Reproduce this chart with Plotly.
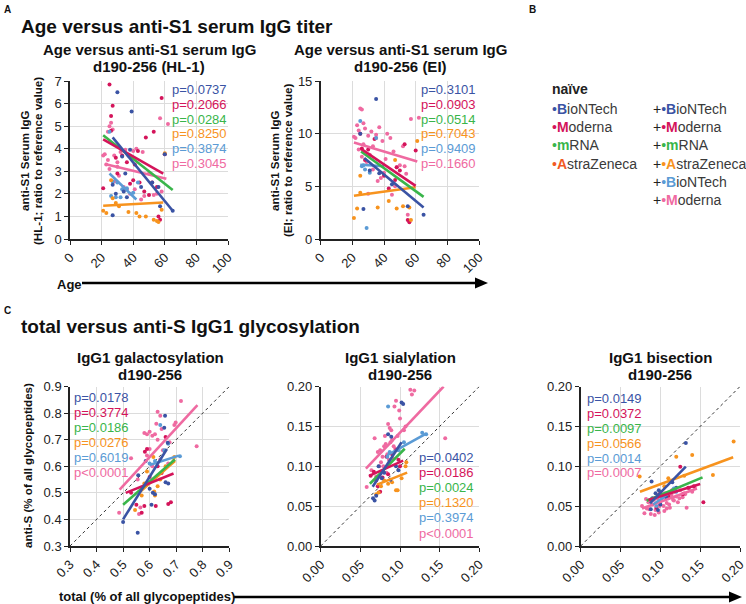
import plotly.graph_objects as go

W, H = 746, 604
FONT = "Liberation Sans, Arial, sans-serif"

# colours
C_BNT = "#3A53A4"
C_MOD = "#D4145A"
C_MRNA = "#39B54A"
C_AZ = "#F7931E"
C_AZN = "#F15A24"
C_BNT2 = "#5B9BD5"
C_MOD2 = "#EF6AA1"

# ---------------- Panel A1 : HL-1 (age, ratio) ----------------
a1_bnt_x = [27, 30, 34, 35, 39, 38, 36, 29, 45, 52, 56, 57, 60, 65, 27, 33]
a1_bnt_y = [1.05, 6.5, 2.1, 2.9, 5.65, 3.95, 1.85, 2.0, 2.3, 2.5, 2.3, 1.45, 3.75, 1.25, 2.4, 3.65]
a1_mod_x = [25, 27, 26, 58, 48, 53, 21, 30, 33, 36, 38, 40, 43, 44, 47, 52, 55, 56, 57, 60, 29, 35, 50, 26, 41]
a1_mod_y = [6.85, 5.9, 5.45, 6.25, 4.5, 4.75, 2.25, 2.9, 3.7, 3.4, 2.45, 2.6, 3.9, 2.5, 2.1, 2.5, 2.3, 1.0, 0.85, 3.75, 3.6, 2.2, 1.95, 4.8, 3.3]
a1_mod2_x = [22, 23, 24, 25, 26, 27, 21, 28, 30, 32, 35, 37, 40, 42, 46, 25, 30, 34, 38, 41, 45, 50, 55, 57, 62, 28, 36, 47, 58, 53, 24, 31]
a1_mod2_y = [3.75, 3.3, 4.75, 5.0, 5.15, 4.85, 3.7, 3.7, 3.4, 3.85, 3.95, 3.7, 3.9, 4.0, 3.85, 3.1, 3.2, 2.3, 2.0, 2.2, 1.75, 2.9, 2.0, 5.35, 5.1, 2.55, 2.2, 1.9, 2.1, 1.95, 3.5, 2.8]
a1_bnt2_x = [25, 27, 30, 29, 32, 36, 40, 43, 33, 26]
a1_bnt2_y = [4.75, 2.55, 2.5, 1.85, 1.85, 2.25, 2.05, 2.5, 2.2, 1.9]
a1_az_x = [21, 23, 27, 29, 26, 37, 44, 48, 53, 55, 56, 58, 60, 31, 42]
a1_az_y = [1.25, 1.15, 1.8, 1.6, 2.6, 1.2, 1.0, 1.0, 0.85, 0.8, 0.75, 1.3, 3.8, 1.45, 1.15]
# regression lines (x0, x1, y0, y1)
a1_fit = {
    "bnt": (27, 65, 4.5, 1.25), "mod": (21, 59, 4.41, 2.9), "mrna": (21, 65, 4.6, 2.17),
    "az": (21, 59, 1.47, 1.62), "bnt2": (25, 42, 2.9, 1.75), "mod2": (22, 61, 3.32, 2.67)}
a1_p = ["p=0.0737", "p=0.2066", "p=0.0284", "p=0.8250", "p=0.3874", "p=0.3045"]

# ---------------- Panel A2 : EI ----------------
a2_bnt_x = [35, 27, 55, 65, 37, 25, 31, 45]
a2_bnt_y = [13.3, 2.85, 3.1, 2.3, 6.25, 10.0, 6.5, 5.2]
a2_mod_x = [25, 26, 53, 60, 48, 50, 40, 47, 56, 55, 43, 34, 28, 30]
a2_mod_y = [10.0, 8.6, 9.0, 8.4, 6.8, 6.5, 6.0, 5.6, 1.6, 1.8, 4.8, 9.5, 7.5, 8.5]
a2_mod2_x = [22, 24, 25, 26, 27, 23, 21, 28, 30, 32, 33, 35, 37, 39, 42, 44, 46, 48, 50, 52, 54, 57, 62, 27, 29, 31, 36, 38, 41, 45, 24, 26, 33, 40, 53, 47, 30, 35, 55]
a2_mod2_y = [9.6, 10.3, 12.4, 12.3, 11.0, 10.8, 9.7, 10.5, 9.8, 10.2, 8.8, 9.9, 10.6, 9.3, 10.0, 9.6, 8.3, 6.8, 7.0, 8.8, 6.2, 11.4, 11.5, 9.0, 7.3, 8.0, 5.5, 5.8, 7.6, 4.2, 8.5, 7.8, 6.6, 6.3, 6.9, 5.0, 4.3, 9.6, 2.3]
a2_bnt2_x = [25, 27, 28, 29, 31, 35, 26]
a2_bnt2_y = [11.2, 7.0, 6.6, 1.05, 6.3, 9.6, 6.9]
a2_az_x = [21, 23, 25, 25, 36, 43, 48, 52, 57, 61, 47, 56]
a2_az_y = [2.0, 2.9, 6.0, 4.4, 3.0, 3.6, 2.9, 3.1, 1.8, 9.3, 7.5, 3.0]
a2_fit = {
    "bnt": (27.5, 65, 7.7, 3.0), "mod": (25.5, 60, 8.55, 5.05), "mrna": (25.5, 65, 8.3, 4.0),
    "az": (21, 60, 4.1, 4.92), "bnt2": (25, 40, 7.05, 6.9), "mod2": (21, 61, 9.16, 7.36)}
a2_p = ["p=0.3101", "p=0.0903", "p=0.0514", "p=0.7043", "p=0.9409", "p=0.1660"]

# ---------------- Panel C1 : galactosylation ----------------
c1_bnt_x = [0.50, 0.555, 0.658, 0.655, 0.668, 0.557, 0.66, 0.607, 0.612, 0.60, 0.62, 0.67, 0.585]
c1_bnt_y = [0.39, 0.35, 0.79, 0.745, 0.688, 0.566, 0.54, 0.455, 0.50, 0.515, 0.495, 0.535, 0.62]
c1_mod_x = [0.582, 0.59, 0.623, 0.67, 0.68, 0.57, 0.53, 0.645, 0.58, 0.63, 0.55, 0.66, 0.60]
c1_mod_y = [0.655, 0.665, 0.45, 0.458, 0.465, 0.425, 0.50, 0.575, 0.45, 0.60, 0.455, 0.71, 0.56]
c1_mod2_x = [0.718, 0.64, 0.63, 0.625, 0.645, 0.58, 0.59, 0.60, 0.61, 0.62, 0.693, 0.698, 0.777, 0.53, 0.485, 0.565, 0.56, 0.60, 0.65, 0.675, 0.64, 0.59, 0.67, 0.63, 0.61, 0.555]
c1_mod2_y = [0.845, 0.79, 0.805, 0.76, 0.74, 0.725, 0.72, 0.73, 0.715, 0.72, 0.755, 0.765, 0.675, 0.63, 0.425, 0.445, 0.42, 0.665, 0.66, 0.69, 0.625, 0.64, 0.61, 0.70, 0.60, 0.55]
c1_bnt2_x = [0.64, 0.714, 0.67, 0.62, 0.60, 0.655]
c1_bnt2_y = [0.755, 0.638, 0.685, 0.62, 0.61, 0.66]
c1_az_x = [0.614, 0.693, 0.617, 0.62, 0.545, 0.57, 0.59, 0.64, 0.66, 0.58, 0.63, 0.69]
c1_az_y = [0.635, 0.635, 0.505, 0.49, 0.435, 0.49, 0.58, 0.55, 0.60, 0.535, 0.525, 0.62]
c1_fit = {
    "bnt": (0.50, 0.665, 0.40, 0.665), "mod": (0.51, 0.69, 0.50, 0.573), "mrna": (0.50, 0.695, 0.455, 0.625),
    "az": (0.56, 0.695, 0.50, 0.62), "bnt2": (0.60, 0.71, 0.605, 0.64), "mod2": (0.487, 0.78, 0.512, 0.83)}
c1_p = ["p=0.0178", "p=0.3774", "p=0.0186", "p=0.0276", "p=0.6019", "p<0.0001"]

# ---------------- Panel C2 : sialylation ----------------
c2_bnt_x = [0.102, 0.104, 0.089, 0.085, 0.066, 0.068, 0.070, 0.073, 0.080, 0.077, 0.095, 0.098, 0.088]
c2_bnt_y = [0.18, 0.178, 0.137, 0.14, 0.06, 0.057, 0.063, 0.10, 0.092, 0.085, 0.10, 0.095, 0.083]
c2_mod_x = [0.063, 0.067, 0.078, 0.100, 0.072, 0.083, 0.090, 0.095, 0.075, 0.085, 0.070, 0.098]
c2_mod_y = [0.088, 0.093, 0.086, 0.100, 0.075, 0.112, 0.115, 0.12, 0.068, 0.09, 0.082, 0.108]
c2_mod2_x = [0.113, 0.118, 0.115, 0.095, 0.099, 0.093, 0.085, 0.087, 0.089, 0.088, 0.068, 0.072, 0.075, 0.080, 0.082, 0.090, 0.092, 0.094, 0.078, 0.076, 0.084, 0.097, 0.105, 0.107, 0.058, 0.064, 0.157, 0.086, 0.079, 0.091, 0.083, 0.074, 0.081, 0.100, 0.070]
c2_mod2_y = [0.196, 0.195, 0.19, 0.182, 0.17, 0.175, 0.153, 0.148, 0.145, 0.13, 0.135, 0.118, 0.12, 0.125, 0.128, 0.133, 0.125, 0.122, 0.112, 0.105, 0.115, 0.138, 0.145, 0.15, 0.074, 0.095, 0.135, 0.108, 0.10, 0.11, 0.092, 0.10, 0.138, 0.16, 0.087]
c2_bnt2_x = [0.085, 0.087, 0.128, 0.133, 0.105, 0.098, 0.084]
c2_bnt2_y = [0.175, 0.118, 0.142, 0.14, 0.13, 0.12, 0.112]
c2_az_x = [0.073, 0.070, 0.095, 0.097, 0.090, 0.102, 0.107, 0.108, 0.080, 0.085, 0.076]
c2_az_y = [0.067, 0.065, 0.07, 0.07, 0.08, 0.085, 0.10, 0.105, 0.082, 0.078, 0.075]
c2_fit = {
    "bnt": (0.0655, 0.102, 0.0743, 0.130), "mod": (0.061, 0.104, 0.088, 0.107), "mrna": (0.062, 0.106, 0.078, 0.122),
    "az": (0.071, 0.109, 0.077, 0.092), "bnt2": (0.084, 0.133, 0.114, 0.141), "mod2": (0.057, 0.155, 0.097, 0.20)}
c2_p = ["p=0.0402", "p=0.0186", "p=0.0024", "p=0.1320", "p=0.3974", "p<0.0001"]

# ---------------- Panel C3 : bisection ----------------
c3_bnt_x = [0.132, 0.089, 0.094, 0.097, 0.115, 0.12, 0.088, 0.100, 0.107, 0.09, 0.098]
c3_bnt_y = [0.129, 0.081, 0.066, 0.045, 0.08, 0.073, 0.046, 0.052, 0.061, 0.06, 0.07]
c3_mod_x = [0.125, 0.154, 0.100, 0.135, 0.128, 0.110, 0.115, 0.088, 0.095, 0.142]
c3_mod_y = [0.0995, 0.055, 0.067, 0.073, 0.065, 0.062, 0.07, 0.058, 0.048, 0.075]
c3_mod2_x = [0.077, 0.08, 0.083, 0.085, 0.088, 0.09, 0.092, 0.094, 0.096, 0.098, 0.1, 0.102, 0.104, 0.106, 0.108, 0.11, 0.112, 0.114, 0.116, 0.118, 0.12, 0.122, 0.125, 0.128, 0.13, 0.133, 0.136, 0.14, 0.143, 0.086, 0.093, 0.099, 0.105, 0.111, 0.117, 0.124, 0.131, 0.082, 0.097, 0.108]
c3_mod2_y = [0.05, 0.041, 0.047, 0.055, 0.04, 0.052, 0.058, 0.045, 0.06, 0.042, 0.056, 0.063, 0.05, 0.066, 0.054, 0.06, 0.048, 0.064, 0.058, 0.068, 0.062, 0.055, 0.07, 0.061, 0.066, 0.048, 0.072, 0.068, 0.074, 0.046, 0.039, 0.05, 0.044, 0.052, 0.057, 0.06, 0.065, 0.059, 0.064, 0.047]
c3_bnt2_x = [0.102, 0.108, 0.117, 0.095, 0.12]
c3_bnt2_y = [0.06, 0.065, 0.072, 0.05, 0.068]
c3_az_x = [0.192, 0.140, 0.120, 0.074, 0.166, 0.105, 0.11, 0.13]
c3_az_y = [0.131, 0.114, 0.112, 0.087, 0.089, 0.075, 0.085, 0.088]
c3_fit = {
    "bnt": (0.087, 0.132, 0.0534, 0.0995), "mod": (0.085, 0.15, 0.0576, 0.0777), "mrna": (0.0827, 0.153, 0.0568, 0.086),
    "az": (0.0744, 0.1914, 0.068, 0.1112), "bnt2": (0.091, 0.12, 0.052, 0.073), "mod2": (0.077, 0.146, 0.047, 0.072)}
c3_p = ["p=0.0149", "p=0.0372", "p=0.0097", "p=0.0566", "p=0.0014", "p=0.0007"]

diag_c1 = [0.3, 0.9]
diag_c23 = [0.0, 0.2]

FIT_COL = {"bnt": C_BNT, "mod": C_MOD, "mrna": C_MRNA, "az": C_AZ, "bnt2": C_BNT2, "mod2": C_MOD2}
P_COLS = [C_BNT, C_MOD, C_MRNA, C_AZ, C_BNT2, C_MOD2]

def px(x):
    return x / W

def py(y):
    return 1 - y / H

fig = go.Figure()

panels = [
    ("x", "y", [(a1_mod2_x, a1_mod2_y, C_MOD2), (a1_mod_x, a1_mod_y, C_MOD), (a1_bnt2_x, a1_bnt2_y, C_BNT2),
                (a1_az_x, a1_az_y, C_AZ), (a1_bnt_x, a1_bnt_y, C_BNT)], a1_fit, None),
    ("x2", "y2", [(a2_mod2_x, a2_mod2_y, C_MOD2), (a2_mod_x, a2_mod_y, C_MOD), (a2_bnt2_x, a2_bnt2_y, C_BNT2),
                  (a2_az_x, a2_az_y, C_AZ), (a2_bnt_x, a2_bnt_y, C_BNT)], a2_fit, None),
    ("x3", "y3", [(c1_mod2_x, c1_mod2_y, C_MOD2), (c1_mod_x, c1_mod_y, C_MOD), (c1_bnt2_x, c1_bnt2_y, C_BNT2),
                  (c1_az_x, c1_az_y, C_AZ), (c1_bnt_x, c1_bnt_y, C_BNT)], c1_fit, diag_c1),
    ("x4", "y4", [(c2_mod2_x, c2_mod2_y, C_MOD2), (c2_mod_x, c2_mod_y, C_MOD), (c2_bnt2_x, c2_bnt2_y, C_BNT2),
                  (c2_az_x, c2_az_y, C_AZ), (c2_bnt_x, c2_bnt_y, C_BNT)], c2_fit, diag_c23),
    ("x5", "y5", [(c3_mod2_x, c3_mod2_y, C_MOD2), (c3_mod_x, c3_mod_y, C_MOD), (c3_bnt2_x, c3_bnt2_y, C_BNT2),
                  (c3_az_x, c3_az_y, C_AZ), (c3_bnt_x, c3_bnt_y, C_BNT)], c3_fit, diag_c23),
]

for xa, ya, pts, fit, diag in panels:
    if diag is not None:
        fig.add_trace(go.Scatter(x=diag, y=diag, xaxis=xa, yaxis=ya, mode="lines",
                                 line=dict(color="#333333", width=1, dash="dot"), hoverinfo="skip"))
    for xs, ys, col in pts:
        fig.add_trace(go.Scatter(x=xs, y=ys, xaxis=xa, yaxis=ya, mode="markers",
                                 marker=dict(color=col, size=4, line=dict(width=0))))
    for key in ["mod2", "az", "bnt2", "mrna", "mod", "bnt"]:
        x0, x1, y0, y1 = fit[key]
        fig.add_trace(go.Scatter(x=[x0, x1], y=[y0, y1], xaxis=xa, yaxis=ya, mode="lines",
                                 line=dict(color=FIT_COL[key], width=2.6)))

def axis(domain, rng, dtick, anchor, fmt=None, angle=None):
    d = dict(domain=domain, range=rng, dtick=dtick, tick0=rng[0], anchor=anchor,
             showline=True, linecolor="#222222", linewidth=1.5, mirror=False,
             ticks="outside", ticklen=4, tickwidth=1.2, tickcolor="#222222",
             showgrid=True, gridcolor="#dcdcdc", gridwidth=1, zeroline=False,
             automargin=False, fixedrange=True, ticklabeloverflow="allow",
             tickfont=dict(family=FONT, size=13, color="#222222"))
    if fmt:
        d["tickformat"] = fmt
    if angle is not None:
        d["tickangle"] = angle
    return d

yA = [py(239), py(81)]
yC = [py(546), py(386.5)]
layout = dict(
    width=W, height=H, template="none", showlegend=False,
    margin=dict(l=0, r=0, t=0, b=0),
    paper_bgcolor="white", plot_bgcolor="white",
    xaxis=axis([px(70), px(228)], [0, 100], 20, "y", angle=-45),
    yaxis=axis(yA, [0, 7], 1, "x"),
    xaxis2=axis([px(320.7), px(479)], [0, 100], 20, "y2", angle=-45),
    yaxis2=axis(yA, [0, 15], 5, "x2"),
    xaxis3=axis([px(70), px(229.3)], [0.3, 0.9], 0.1, "y3", fmt=".1f", angle=-45),
    yaxis3=axis(yC, [0.3, 0.9], 0.1, "x3", fmt=".1f"),
    xaxis4=axis([px(320.7), px(479.3)], [0, 0.2], 0.05, "y4", fmt=".2f", angle=-45),
    yaxis4=axis(yC, [0, 0.2], 0.05, "x4", fmt=".2f"),
    xaxis5=axis([px(580.7), px(740)], [0, 0.2], 0.05, "y5", fmt=".2f", angle=-45),
    yaxis5=axis(yC, [0, 0.2], 0.05, "x5", fmt=".2f"),
)
fig.update_layout(**layout)

ann = []

def text(x, y, s, size, bold=False, color="#111111", xanchor="left", yanchor="middle", angle=0):
    ann.append(dict(x=px(x), y=py(y), xref="paper", yref="paper", text=(f"<b>{s}</b>" if bold else s),
                    showarrow=False, xanchor=xanchor, yanchor=yanchor, textangle=angle,
                    font=dict(family=FONT, size=size, color=color), align="center"))

# panel letters
text(2, 9, "A", 10, True)
text(527, 9, "B", 10, True)
text(2, 310, "C", 10, True)
# main titles
text(19, 27, "Age versus anti-S1 serum IgG titer", 19, True)
text(19, 326, "total versus anti-S IgG1 glycosylation", 19, True)
# subplot titles
for cx, l1, l2, y1 in [(149, "Age versus anti-S1 serum IgG", "d190-256 (HL-1)", 49),
                       (400, "Age versus anti-S1 serum IgG", "d190-256 (EI)", 49),
                       (150, "IgG1 galactosylation", "d190-256", 357),
                       (400, "IgG1 sialylation", "d190-256", 357),
                       (660, "IgG1 bisection", "d190-256", 357)]:
    text(cx, y1, l1, 15, True, xanchor="center")
    text(cx, y1 + 17, l2, 15, True, xanchor="center")
# y axis titles
text(25, 161, "anti-S1 Serum IgG", 11.6, True, xanchor="center", angle=-90)
text(38, 161, "(HL-1; ratio to reference value)", 11.6, True, xanchor="center", angle=-90)
text(275, 161, "anti-S1 Serum IgG", 11.6, True, xanchor="center", angle=-90)
text(288, 161, "(EI; ratio to reference value)", 11.6, True, xanchor="center", angle=-90)
text(27, 466, "anti-S (% of all glycopeptides)", 11.6, True, xanchor="center", angle=-90)
# bottom labels
text(55, 284, "Age", 13, True)
text(57, 596, "total (% of all glycopeptides)", 13, True)

# p-values
def pvals(x, y0, step, labels, xanchor):
    for i, (lab, col) in enumerate(zip(labels, P_COLS)):
        text(x, y0 + i * step, lab, 13, False, color=col, xanchor=xanchor)

pvals(229, 89.5, 14.8, a1_p, "right")
pvals(478, 90, 14.6, a2_p, "right")
pvals(72, 397, 15, c1_p, "left")
pvals(476, 457, 15.2, c2_p, "right")
pvals(585, 398, 15, c3_p, "left")

# legend (panel B)
text(550, 89, "naïve", 14, True, color="#222222")
leg1 = [("B", "ioNTech", C_BNT), ("M", "oderna", C_MOD), ("m", "RNA", C_MRNA), ("A", "straZeneca", C_AZN)]
leg2 = [("B", "ioNTech", C_BNT), ("M", "oderna", C_MOD), ("m", "RNA", C_MRNA), ("A", "straZeneca", C_AZ),
        ("B", "ioNTech", C_BNT2), ("M", "oderna", C_MOD2)]
for i, (first, rest, col) in enumerate(leg1):
    s = f"<span style='color:{col}'>•</span><span style='color:{col};font-weight:bold'>{first}</span>{rest}"
    text(550, 109 + i * 18.2, s, 14, False, color="#3a3a3a")
for i, (first, rest, col) in enumerate(leg2):
    s = f"<span style='color:#222'>+</span><span style='color:{col}'>•</span><span style='color:{col};font-weight:bold'>{first}</span>{rest}"
    text(651, 109 + i * 18.2, s, 14, False, color="#3a3a3a")

fig.update_layout(annotations=ann)

# arrows
shapes = [
    dict(type="line", xref="paper", yref="paper", x0=px(82), x1=px(478), y0=py(283), y1=py(283),
         line=dict(color="black", width=2.5)),
    dict(type="path", xref="paper", yref="paper",
         path=f"M {px(475)},{py(277.5)} L {px(488)},{py(283)} L {px(475)},{py(288.5)} Z",
         fillcolor="black", line=dict(color="black", width=0)),
    dict(type="line", xref="paper", yref="paper", x0=px(234), x1=px(732), y0=py(597), y1=py(597),
         line=dict(color="black", width=2.5)),
    dict(type="path", xref="paper", yref="paper",
         path=f"M {px(729)},{py(591.5)} L {px(742)},{py(597)} L {px(729)},{py(602.5)} Z",
         fillcolor="black", line=dict(color="black", width=0)),
]
fig.update_layout(shapes=shapes)

fig.write_html("out.html", config={"displayModeBar": False},
               post_script="document.body.style.margin='0';document.body.style.padding='0';document.body.style.overflow='hidden';")
